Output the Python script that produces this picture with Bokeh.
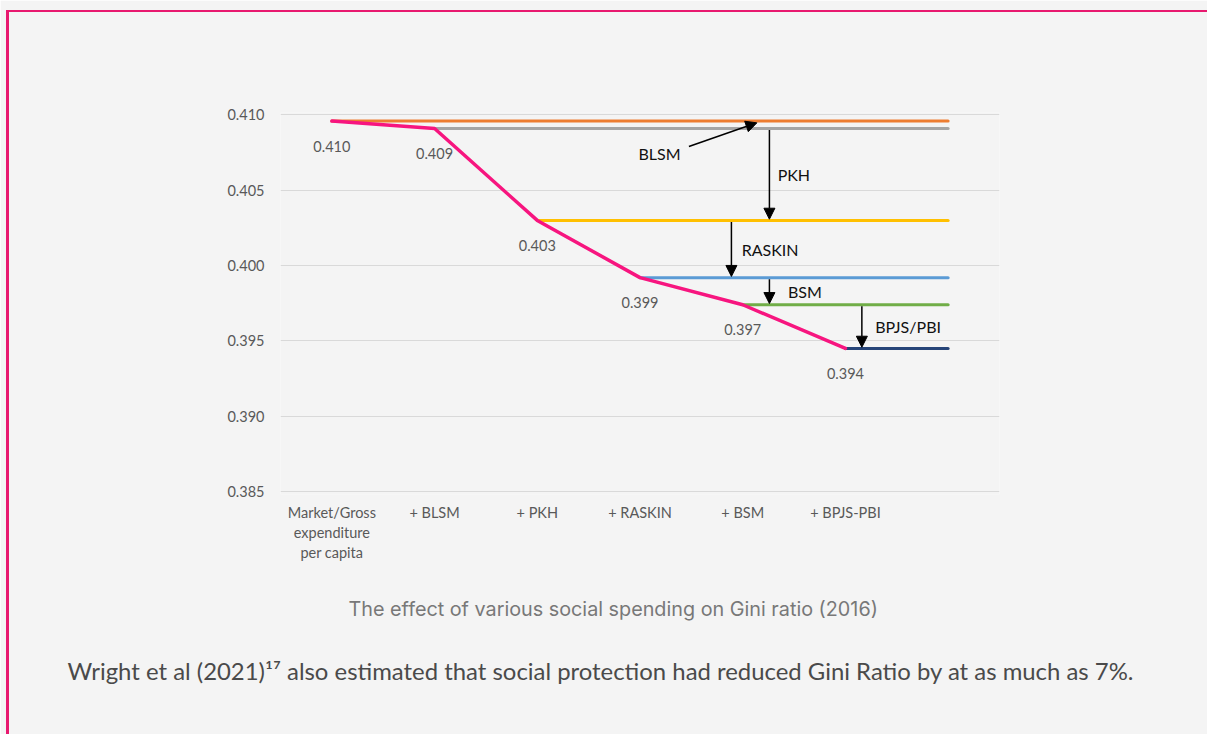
from bokeh.plotting import figure
from bokeh.models import (Range1d, FixedTicker, NumeralTickFormatter, Arrow,
                          NormalHead, Label, Title, InlineStyleSheet)
from bokeh.embed import file_html
from bokeh.resources import INLINE
from bokeh.core.properties import value

# ---------------- data ----------------
categories = ["Market/Gross\nexpenditure\nper capita", "+ BLSM", "+ PKH",
              "+ RASKIN", "+ BSM", "+ BPJS-PBI"]
programs = ["Market", "BLSM", "PKH", "RASKIN", "BSM", "BPJS/PBI"]
gini = [0.4096, 0.4091, 0.4030, 0.3992, 0.3974, 0.3945]
gini_labels = ["0.410", "0.409", "0.403", "0.399", "0.397", "0.394"]
series_colors = ["#ED7D31", "#A5A5A5", "#FFC000", "#5B9BD5", "#70AD47", "#264478"]
y_ticks = [0.385, 0.390, 0.395, 0.400, 0.405, 0.410]
# arrow annotations (arrow i-1 shows the effect of programs[i]); x in category units
arrow_x = [None, 4.26, 3.89, 4.26, 5.16]
arrow_label_x = [3.19, 4.34, 3.99, 4.44, 5.29]
caption = "The effect of various social spending on Gini ratio (2016)"
body_text = ("Wright et al (2021)\u00b9\u2077 also estimated that social protection "
             "had reduced Gini Ratio by at as much as 7%.")

PINK = "#F7157F"
BORDER = "#E8196F"
BG = "#F4F4F4"
FONT = "Lato"

W, H = 1207, 734
p = figure(width=W, height=H, output_backend="svg", toolbar_location=None,
           x_range=Range1d(-0.5, 6.5), y_range=Range1d(0.3848008, 0.410166),
           min_border_left=280, min_border_right=208, min_border_top=112,
           min_border_bottom=240)
p.background_fill_color = BG
p.border_fill_color = BG
p.outline_line_color = None

# axes
p.yaxis.ticker = FixedTicker(ticks=y_ticks)
p.yaxis.formatter = NumeralTickFormatter(format="0.000")
p.yaxis.axis_line_color = None
p.yaxis.major_tick_line_color = None
p.yaxis.minor_tick_line_color = None
p.yaxis.major_label_standoff = 10
p.yaxis.major_label_text_font = FONT
p.yaxis.major_label_text_font_size = "14.5px"
p.yaxis.major_label_text_color = "#595959"

p.xaxis.ticker = FixedTicker(ticks=list(range(len(categories))))
p.xaxis.major_label_overrides = {i: c for i, c in enumerate(categories)}
p.xaxis.axis_line_color = None
p.xaxis.major_tick_line_color = None
p.xaxis.minor_tick_line_color = None
p.xaxis.major_label_standoff = 3
p.xaxis.major_label_text_font = FONT
p.xaxis.major_label_text_font_size = "14.5px"
p.xaxis.major_label_text_color = "#595959"
p.xaxis.major_label_text_line_height = 1.18

p.xgrid.grid_line_color = None
p.ygrid.grid_line_color = "#D9D9D9"
p.ygrid.grid_line_width = 1

# horizontal series lines
x_end = len(categories)
for i, (g, c) in enumerate(zip(gini, series_colors)):
    p.line([i, x_end], [g, g], line_color=c, line_width=3, line_cap="round")

# cumulative line
xs = list(range(len(gini)))
p.line(xs, gini, line_color=PINK, line_width=3.5, line_join="round", line_cap="round")

# data labels
p.text(x=xs, y=gini, text=gini_labels, y_offset=25, text_align="center",
       text_baseline="middle", text_font=value(FONT), text_font_size="14.5px",
       text_color="#595959")

# arrows
head = dict(size=11, fill_color="black", line_color="black")
p.add_layout(Arrow(end=NormalHead(**head), x_start=3.476, y_start=0.40791,
                   x_end=4.138, y_end=gini[0] - 0.00012, line_width=1.5,
                   line_color="black"))
for i in range(2, len(gini)):
    ax = arrow_x[i - 1]
    p.add_layout(Arrow(end=NormalHead(**head), x_start=ax, y_start=gini[i - 1] - 0.0001,
                       x_end=ax, y_end=gini[i] + 0.00008, line_width=1.5,
                       line_color="black"))

# arrow labels
p.add_layout(Label(x=arrow_label_x[0], y=0.40744, text=programs[1], text_align="center",
                   text_baseline="middle", text_font=FONT, text_font_size="16px",
                   text_color="#111111"))
for i in range(2, len(gini)):
    ymid = (gini[i - 1] + gini[i]) / 2
    p.add_layout(Label(x=arrow_label_x[i - 1], y=ymid, text=programs[i], text_align="left",
                       text_baseline="middle", text_font=FONT, text_font_size="16px",
                       text_color="#111111"))

# caption and body text
p.add_layout(Title(text=caption, align="left", offset=348 - 280, standoff=63,
                   text_font="Inter", text_font_size="19.8px", text_font_style="normal",
                   text_color="#787878"), "below")
p.add_layout(Title(text=body_text, align="left", offset=67 - 280, standoff=3,
                   text_font=FONT, text_font_size="23.9px", text_font_style="normal",
                   text_color="#4A4A4A"), "below")

# page border (left and top edges)
p.stylesheets = [InlineStyleSheet(css=(
    ":host::after { content: ''; position: absolute; left: 6px; top: 9.5px; "
    "right: 0; bottom: 0; border-left: 3px solid #E8196F; "
    "border-top: 2.5px solid #E8196F; pointer-events: none; z-index: 100; }"))]

open("out.html", "w").write(file_html(p, INLINE))
